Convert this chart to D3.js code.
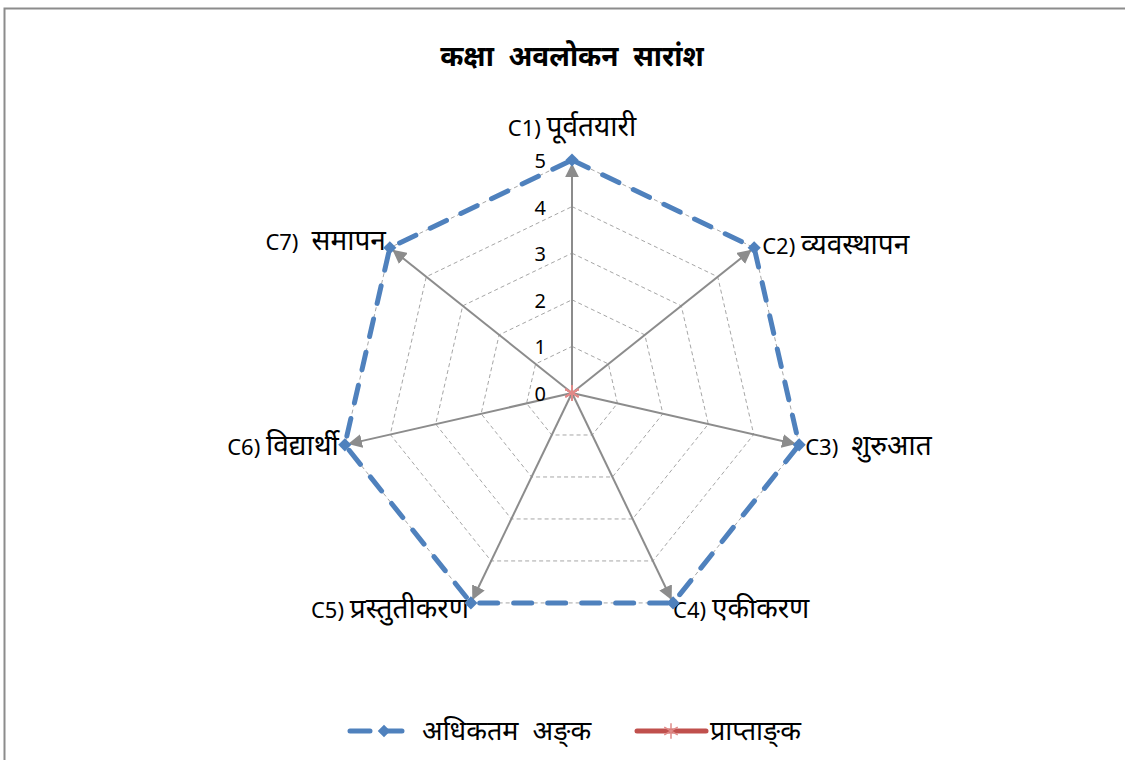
<!DOCTYPE html>
<html>
<head>
<meta charset="utf-8">
<script src="https://cdn.jsdelivr.net/npm/d3@7"></script>
<style>
  body { margin: 0; background: #fff; }
  text { font-family: "Noto Sans", "Open Sans", "DejaVu Sans", sans-serif; fill: #000; white-space: pre; }
</style>
</head>
<body>
<div class="chart"></div>
<script>
const width = 1125;
const height = 760;

const categoryCodes = ['C1)', 'C2)', 'C3)', 'C4)', 'C5)', 'C6)', 'C7)'];
const categories = ['पूर्वतयारी', 'व्यवस्थापन', ' शुरुआत', 'एकीकरण', 'प्रस्तुतीकरण', 'विद्यार्थी', ' समापन'];
const maxMarks = [5, 5, 5, 5, 5, 5, 5];
const obtainedMarks = [0, 0, 0, 0, 0, 0, 0];
const tickValues = [0, 1, 2, 3, 4, 5];
const seriesNames = ['अधिकतम  अङ्\u200Cक', 'प्राप्ताङ्\u200Cक'];

const cx = 572;
const cy = 393;
const radius = 233;

const svg = d3.select('.chart')
  .append('svg')
  .attr('width', width)
  .attr('height', height);

// frame
svg.append('rect')
  .attr('x', 4.5).attr('y', 8.5)
  .attr('width', width + 10).attr('height', height + 10)
  .attr('fill', 'none')
  .attr('stroke', '#8c8c8c')
  .attr('stroke-width', 2);

svg.append('text')
  .attr('x', cx).attr('y', 66)
  .attr('text-anchor', 'middle')
  .style('font-size', '28px')
  .style('font-weight', 'bold')
  .text('कक्षा  अवलोकन  सारांश');

const rScale = d3.scaleLinear().domain([0, 5]).range([0, radius]);
const angle = d3.scalePoint().domain(d3.range(categories.length + 1)).range([0, 2 * Math.PI]);

const g = svg.append('g').attr('transform', `translate(${cx},${cy})`);

const point = (i, v) => {
  const a = angle(i);
  return [rScale(v) * Math.sin(a), -rScale(v) * Math.cos(a)];
};

// grid rings
tickValues.filter((t) => t > 0).forEach((t) => {
  g.append('path')
    .attr('d', d3.line()(categories.map((_c, i) => point(i, t))) + 'Z')
    .attr('fill', 'none')
    .attr('stroke', '#a6a6a6')
    .attr('stroke-width', 1)
    .attr('stroke-dasharray', '4,3');
});

// axes with arrows
svg.append('defs').append('marker')
  .attr('id', 'arrow')
  .attr('viewBox', '0 0 10 10')
  .attr('refX', 10).attr('refY', 5)
  .attr('markerWidth', 7).attr('markerHeight', 7)
  .attr('markerUnits', 'strokeWidth')
  .attr('orient', 'auto')
  .append('path')
  .attr('d', 'M0,0 L10,5 L0,10 Z')
  .attr('fill', '#8c8c8c');

categories.forEach((_c, i) => {
  const [x, y] = point(i, 4.93);
  g.append('line')
    .attr('x1', 0).attr('y1', 0)
    .attr('x2', x).attr('y2', y)
    .attr('stroke', '#8c8c8c')
    .attr('stroke-width', 2)
    .attr('marker-end', 'url(#arrow)');
});

// tick labels
g.selectAll('.tick-label')
  .data(tickValues)
  .enter()
  .append('text')
  .attr('class', 'tick-label')
  .attr('x', -26)
  .attr('y', (d) => -rScale(d) + 8)
  .attr('text-anchor', 'end')
  .style('font-size', '20px')
  .text((d) => d);

// category labels
const labelPos = [
  { dx: 0, dy: -24, anchor: 'middle' },
  { dx: 8, dy: 6, anchor: 'start' },
  { dx: 6, dy: 10, anchor: 'start' },
  { dx: 0, dy: 15, anchor: 'start' },
  { dx: -2, dy: 15, anchor: 'end' },
  { dx: -6, dy: 10, anchor: 'end' },
  { dx: -4, dy: 2, anchor: 'end' }
];
categories.forEach((c, i) => {
  const [x, y] = point(i, 5);
  const t = g.append('text')
    .attr('x', x + labelPos[i].dx)
    .attr('y', y + labelPos[i].dy)
    .attr('text-anchor', labelPos[i].anchor);
  t.append('tspan').style('font-size', '22px').text(categoryCodes[i] + ' ');
  t.append('tspan').style('font-size', '28px').text(c);
});

// series: max marks
const maxPts = maxMarks.map((v, i) => point(i, v));
g.append('path')
  .attr('d', d3.line()(maxPts) + 'Z')
  .attr('fill', 'none')
  .attr('stroke', '#4f81bd')
  .attr('stroke-width', 5)
  .attr('stroke-linecap', 'round')
  .attr('stroke-dasharray', '18,16');

g.selectAll('.diamond')
  .data(maxPts)
  .enter()
  .append('path')
  .attr('class', 'diamond')
  .attr('transform', (d) => `translate(${d[0]},${d[1]})`)
  .attr('d', d3.symbol(d3.symbolDiamond2, 110))
  .attr('fill', '#4f81bd');

// series: obtained marks
const obtPts = obtainedMarks.map((v, i) => point(i, v));
g.append('path')
  .attr('d', d3.line()(obtPts) + 'Z')
  .attr('fill', 'none')
  .attr('stroke', '#c0504d')
  .attr('stroke-width', 3);

g.selectAll('.star')
  .data(obtPts)
  .enter()
  .append('path')
  .attr('class', 'star')
  .attr('transform', (d) => `translate(${d[0]},${d[1]})`)
  .attr('d', d3.symbol(d3.symbolAsterisk, 160))
  .attr('stroke', '#e08a88')
  .attr('stroke-width', 1.5)
  .attr('fill', 'none');

// legend
const legend = svg.append('g').attr('transform', 'translate(0,731)');
legend.append('line')
  .attr('x1', 350).attr('x2', 402)
  .attr('stroke', '#4f81bd').attr('stroke-width', 5)
  .attr('stroke-linecap', 'round')
  .attr('stroke-dasharray', '20,12');
legend.append('path')
  .attr('transform', 'translate(384,0)')
  .attr('d', d3.symbol(d3.symbolDiamond2, 100))
  .attr('fill', '#4f81bd');
legend.append('text')
  .attr('x', 422).attr('y', 9)
  .style('font-size', '27px')
  .text(seriesNames[0]);
legend.append('line')
  .attr('x1', 637).attr('x2', 706)
  .attr('stroke', '#c0504d').attr('stroke-width', 5)
  .attr('stroke-linecap', 'round');
legend.append('path')
  .attr('transform', 'translate(671,0)')
  .attr('d', d3.symbol(d3.symbolAsterisk, 170))
  .attr('stroke', '#e08a88')
  .attr('stroke-width', 1.5)
  .attr('fill', 'none');
legend.append('text')
  .attr('x', 710).attr('y', 9)
  .style('font-size', '27px')
  .text(seriesNames[1]);
</script>
</body>
</html>
